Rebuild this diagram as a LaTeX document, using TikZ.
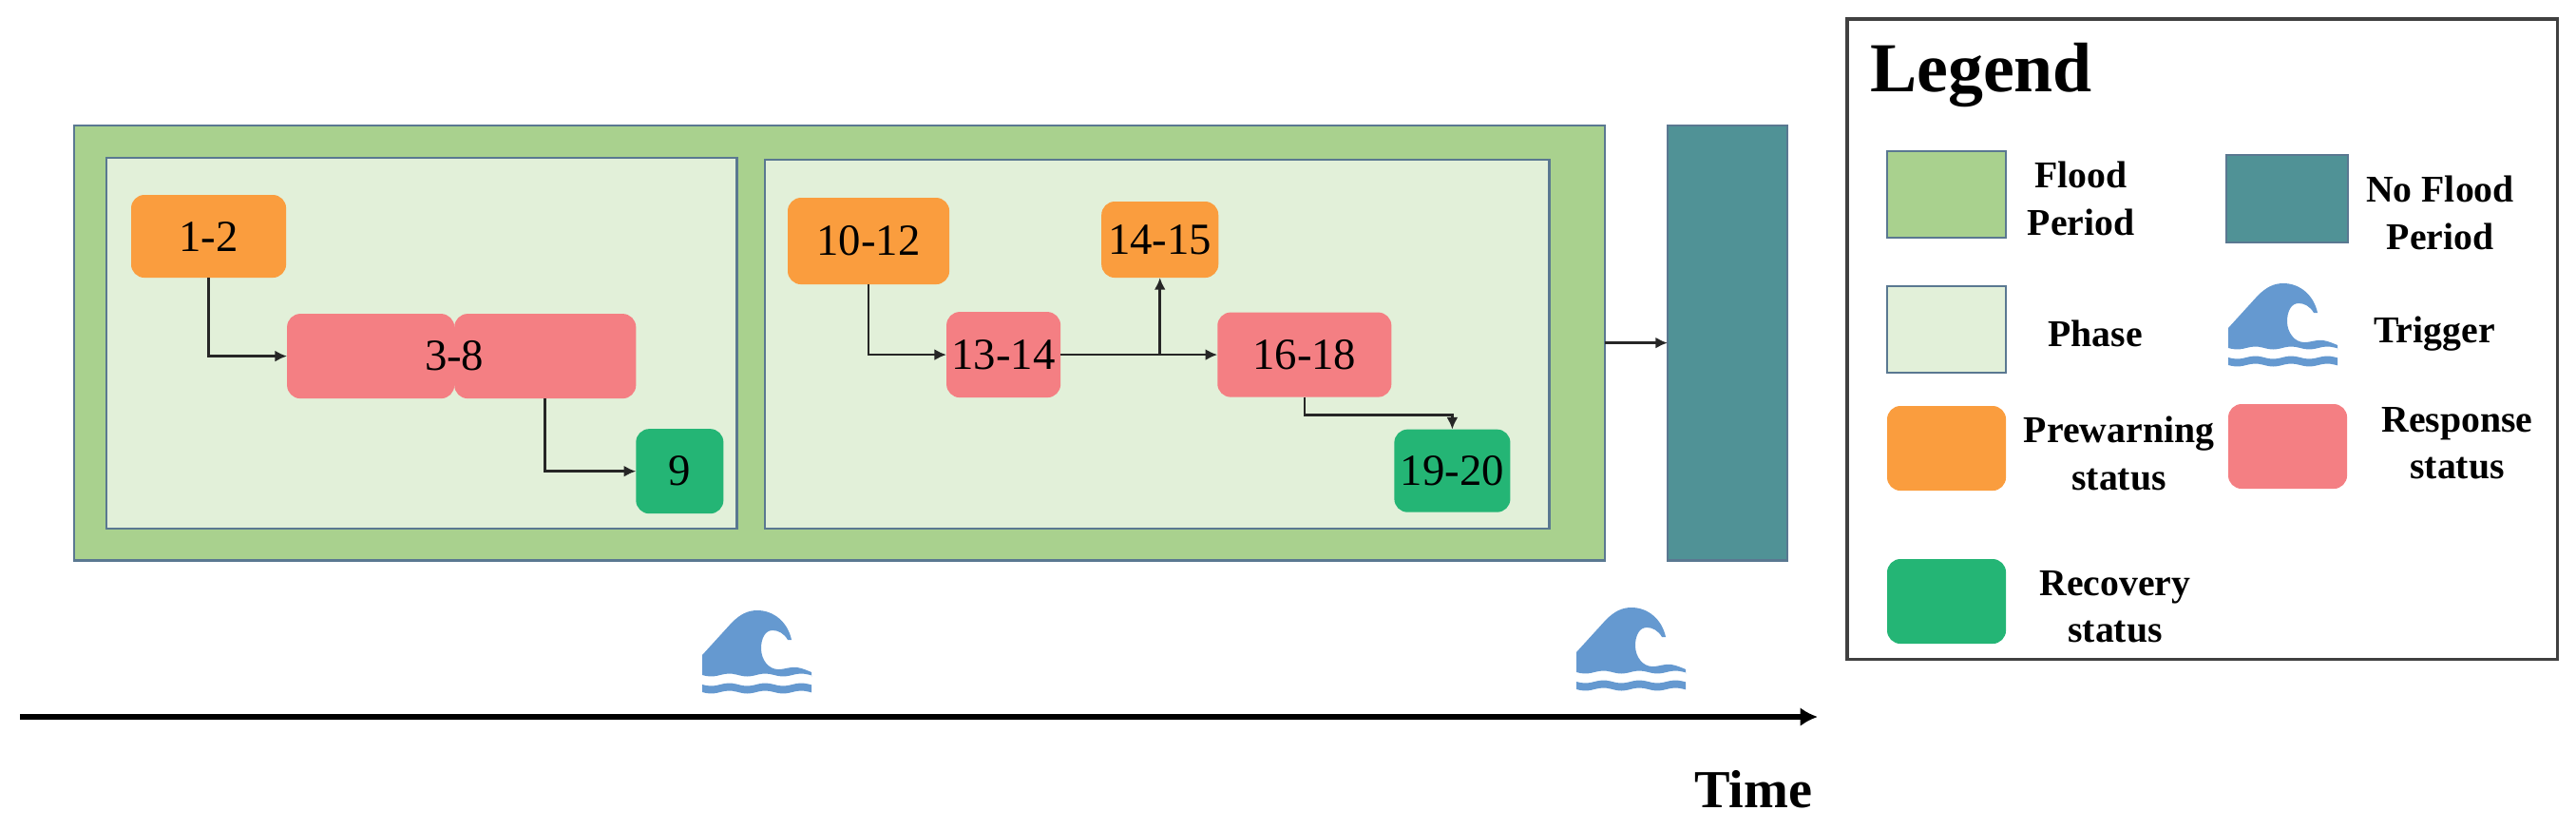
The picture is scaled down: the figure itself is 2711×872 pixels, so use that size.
\documentclass[tikz,border=0pt]{standalone}
\usepackage{fontspec}
\setmainfont{Liberation Serif}
\usetikzlibrary{arrows.meta,positioning}
\definecolor{FloodGreen}{RGB}{169,209,142}
\definecolor{PhaseGreen}{RGB}{226,240,217}
\definecolor{NoFloodTeal}{RGB}{80,146,150}
\definecolor{PrewarnOrange}{RGB}{250,157,62}
\definecolor{ResponsePink}{RGB}{244,127,131}
\definecolor{RecoverGreen}{RGB}{36,181,117}
\definecolor{EdgeBlue}{RGB}{90,120,145}
\definecolor{WaveBlue}{RGB}{101,153,208}
\tikzset{
  flat/.style={anchor=north west,outer sep=0pt,inner sep=0pt},
  period/.style={flat,draw=EdgeBlue,fill=FloodGreen,line width=0.7pt},
  noperiod/.style={flat,draw=EdgeBlue,fill=NoFloodTeal,line width=0.7pt},
  phase/.style={flat,draw=EdgeBlue,fill=PhaseGreen,line width=0.7pt},
  status/.style={flat,rounded corners=0.14cm,font=\fontsize{13.3}{16}\selectfont},
  prewarn/.style={status,fill=PrewarnOrange},
  response/.style={status,fill=ResponsePink},
  recover/.style={status,fill=RecoverGreen},
  legtext/.style={align=center,inner sep=0pt,font=\bfseries\fontsize{11.3}{14}\selectfont},
  arrow/.style={-{Latex[length=3.6pt,width=3.4pt]},line width=0.75pt,black!85},
  floodwave/.pic={
    \fill[WaveBlue] (0,47) -- (31,13) .. controls (40,4) and (48,0) .. (58,0)
      .. controls (75,0) and (90,12) .. (94,31) -- (90,31)
      .. controls (86,24) and (80,21) .. (74,21)
      .. controls (66,21) and (62,30) .. (62,40)
      .. controls (62,52) and (70,62) .. (80,62)
      .. controls (88,62) and (92,59) .. (100,60)
      .. controls (106,61) and (110,63) .. (115,65) -- (115,70)
      -- plot[domain=115:0,samples=30] (\x,{68+1.5*sin(\x*9.5)}) -- cycle;
    \fill[WaveBlue] plot[domain=0:115,samples=30] (\x,{78+1.5*sin(\x*9.5)})
      -- plot[domain=115:0,samples=30] (\x,{86+1.5*sin(\x*9.5)}) -- cycle;
  }
}
\begin{document}
\begin{tikzpicture}[x=0.01cm,y=-0.01cm]
  \useasboundingbox (0,0) rectangle (2711,872);
  % periods and phases
  \node[period,minimum width=16.10cm,minimum height=4.57cm] (flood) at (78,132) {};
  \node[noperiod,minimum width=1.26cm,minimum height=4.57cm] (noflood) at (1755,132) {};
  \node[phase,minimum width=6.63cm,minimum height=3.90cm] (phaseA) at (112,166) {};
  \node[phase,minimum width=8.25cm,minimum height=3.88cm] (phaseB) at (805,168) {};
  % first phase
  \node[prewarn,minimum width=1.63cm,minimum height=0.87cm] (s12) at (138,205) {1-2};
  \node[response,minimum width=1.76cm,minimum height=0.89cm,below right=0.38cm and 0.01cm of s12] (s38a) {};
  \node[response,minimum width=1.91cm,minimum height=0.89cm,right=0cm of s38a] (s38b) {};
  \node[font=\fontsize{13.3}{16}\selectfont,inner sep=0pt] (t38) at (s38a.east) {3-8};
  \node[recover,minimum width=0.92cm,minimum height=0.89cm,below right=0.32cm and 0cm of s38b] (s9) {9};
  % second phase
  \node[prewarn,minimum width=1.70cm,minimum height=0.91cm] (s1012) at (829,208) {10-12};
  \node[response,minimum width=1.20cm,minimum height=0.90cm,below right=0.29cm and -0.03cm of s1012] (s1314) {13-14};
  \node[prewarn,minimum width=1.23cm,minimum height=0.80cm,above right=0.36cm and 0.43cm of s1314] (s1415) {14-15};
  \node[response,minimum width=1.83cm,minimum height=0.89cm,right=1.65cm of s1314] (s1618) {16-18};
  \node[recover,minimum width=1.22cm,minimum height=0.87cm,below right=0.34cm and 0.03cm of s1618] (s1920) {19-20};
  \draw[arrow] (s12.south) |- (s38a.west);
  \draw[arrow] (s38b.south) |- (s9.west);
  \draw[arrow] (s1012.south) |- (s1314.west);
  \draw[arrow] (s1314.east) -- (s1618.west);
  \draw[arrow] (s1314 -| s1415) -- (s1415.south);
  \draw[arrow] (s1618.south) -- ++(0,19) -| (s1920.north);
  \draw[arrow] (flood.east) -- (flood.east -| noflood.west);
  % time axis
  \pic at (739,642) {floodwave};
  \pic at (1659,639) {floodwave};
  \coordinate (tstart) at (21,754);
  \coordinate (tend) at (1913,754);
  \draw[-{Latex[length=5.2pt,width=5.6pt]},line width=1.7pt] (tstart) -- (tend);
  \node[inner sep=0pt,font=\bfseries\fontsize{16}{19}\selectfont] (time) at (1845,830) {Time};
  % legend
  \node[flat,draw=black!75,line width=0.9pt,minimum width=7.47cm,minimum height=6.73cm] (legend) at (1944,20) {};
  \node[inner sep=0pt,anchor=base,font=\bfseries\fontsize{21}{25}\selectfont] (legtitle) at (2085,96) {Legend};
  \node[period,minimum width=1.25cm,minimum height=0.91cm] (kflood) at (1986,159) {};
  \node[legtext] (lflood) at (2190,209) {Flood\\Period};
  \node[noperiod,minimum width=1.28cm,minimum height=0.92cm] (knoflood) at (2343,163) {};
  \node[legtext] (lnoflood) at (2568,224) {No Flood\\Period};
  \node[phase,minimum width=1.25cm,minimum height=0.91cm] (kphase) at (1986,301) {};
  \node[legtext] (lphase) at (2205,351) {Phase};
  \pic at (2345,298) {floodwave};
  \node[legtext] (ltrigger) at (2562,351) {Trigger};
  \node[prewarn,minimum width=1.25cm,minimum height=0.89cm] (kprewarn) at (1986,427) {};
  \node[legtext] (lprewarn) at (2230,477) {Prewarning\\status};
  \node[response,minimum width=1.25cm,minimum height=0.89cm] (kresponse) at (2345,425) {};
  \node[legtext] (lresponse) at (2586,466) {Response\\status};
  \node[recover,minimum width=1.25cm,minimum height=0.89cm] (krecover) at (1986,588) {};
  \node[legtext] (lrecover) at (2226,638) {Recovery\\status};
\end{tikzpicture}
\end{document}
